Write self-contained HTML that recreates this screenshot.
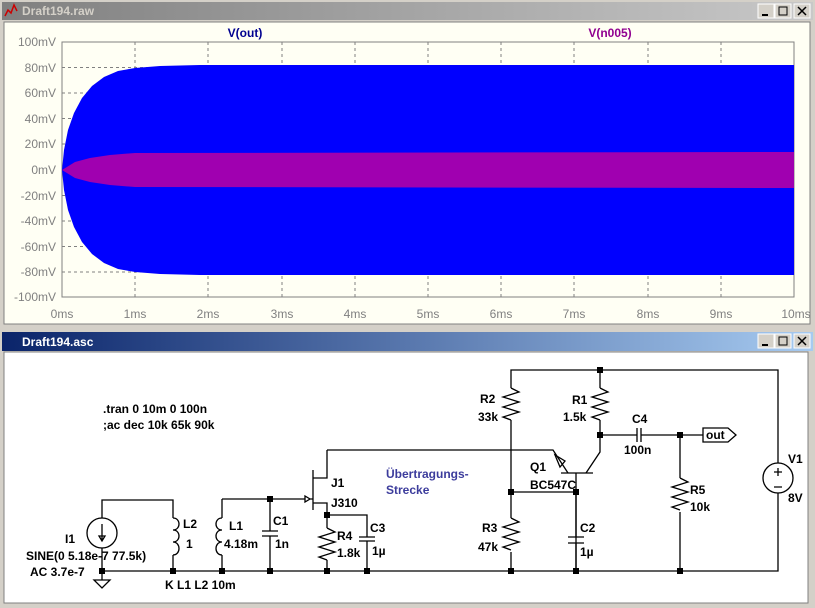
<!DOCTYPE html>
<html><head><meta charset="utf-8"><style>
html,body{margin:0;padding:0;background:#d4d0c8;}
svg{display:block;}
.t{font-family:"Liberation Sans",sans-serif;font-size:12px;font-weight:bold;fill:#000;}
.ax{font-family:"Liberation Sans",sans-serif;font-size:12px;fill:#808080;}
.tl{font-family:"Liberation Sans",sans-serif;font-size:12px;font-weight:bold;}
</style></head><body>
<svg width="815" height="608" viewBox="0 0 815 608" xmlns="http://www.w3.org/2000/svg">
<defs>
<linearGradient id="g1" x1="0" x2="1"><stop offset="0" stop-color="#808080"/><stop offset="1" stop-color="#c8c8c8"/></linearGradient>
<linearGradient id="g2" x1="0" x2="1"><stop offset="0" stop-color="#0a246a"/><stop offset="1" stop-color="#a6caf0"/></linearGradient>
</defs>
<rect width="815" height="608" fill="#d4d0c8"/>
<!-- top window -->
<rect x="2" y="2" width="811" height="18" fill="url(#g1)"/>
<path d="M5 16 l3 -6 3 3 3 -8 3 6" stroke="#c00" stroke-width="1.5" fill="none"/>
<text x="22" y="15" class="tl" fill="#d4d0c8">Draft194.raw</text>
<g fill="#d4d0c8" stroke="#fff"><rect x="758" y="4" width="16" height="14"/><rect x="775" y="4" width="16" height="14"/><rect x="794" y="4" width="16" height="14"/></g>
<g stroke="#000" fill="none"><path d="M762 15 h6" stroke-width="2"/><rect x="779" y="7" width="8" height="8"/><path d="M798 7 l8 8 M806 7 l-8 8" stroke-width="1.5"/></g>
<rect x="4" y="22" width="806" height="302" fill="#fffff4" stroke="#808080"/>
<!-- grid -->
<g stroke="#808080" stroke-dasharray="3,3">
<path d="M135 42V297M208 42V297M282 42V297M355 42V297M428 42V297M501 42V297M574 42V297M648 42V297M721 42V297"/>
<path d="M62 67.5H794M62 93H794M62 118.5H794M62 144H794M62 170H794M62 195.5H794M62 221H794M62 246.5H794M62 272H794"/>
</g>
<rect x="62" y="42" width="732" height="255" fill="none" stroke="#808080"/>
<!-- waveforms -->
<path d="M62 170 L64 150 68 130 74 113 82 98 92 86 104 77 118 71 135 68 160 66 200 65 794 65 L794 275 200 275 160 274 135 272 118 269 104 263 92 254 82 242 74 227 68 210 64 190 Z" fill="#0000ff"/>
<path d="M62 170 L75 162 90 158 110 155 135 153 794 152 794 188 135 187 110 185 90 182 75 178 Z" fill="#a000b0"/>
<g class="ax" text-anchor="end">
<text x="56" y="46">100mV</text><text x="56" y="72">80mV</text><text x="56" y="97">60mV</text><text x="56" y="123">40mV</text><text x="56" y="148">20mV</text><text x="56" y="174">0mV</text><text x="56" y="200">-20mV</text><text x="56" y="225">-40mV</text><text x="56" y="251">-60mV</text><text x="56" y="276">-80mV</text><text x="56" y="301">-100mV</text>
</g>
<g class="ax" text-anchor="middle">
<text x="62" y="318">0ms</text><text x="135" y="318">1ms</text><text x="208" y="318">2ms</text><text x="282" y="318">3ms</text><text x="355" y="318">4ms</text><text x="428" y="318">5ms</text><text x="501" y="318">6ms</text><text x="574" y="318">7ms</text><text x="648" y="318">8ms</text><text x="721" y="318">9ms</text><text x="796" y="318">10ms</text>
</g>
<text x="245" y="37" class="tl" fill="#000090" text-anchor="middle">V(out)</text>
<text x="610" y="37" class="tl" fill="#900090" text-anchor="middle">V(n005)</text>
<!-- bottom window -->
<rect x="2" y="332" width="811" height="19" fill="url(#g2)"/>
<text x="22" y="346" class="tl" fill="#fff">Draft194.asc</text>
<g fill="#d4d0c8" stroke="#fff"><rect x="758" y="334" width="16" height="14"/><rect x="775" y="334" width="16" height="14"/><rect x="794" y="334" width="16" height="14"/></g>
<g stroke="#000" fill="none"><path d="M762 345 h6" stroke-width="2"/><rect x="779" y="337" width="8" height="8"/><path d="M798 337 l8 8 M806 337 l-8 8" stroke-width="1.5"/></g>
<rect x="4" y="352" width="804" height="251" fill="#fff" stroke="#808080"/>
<!-- schematic -->
<g stroke="#000" stroke-width="1.3" fill="none">
<path d="M102 571H778V493"/>
<path d="M778 463V370H511V388M511 420V518M511 552V571"/>
<path d="M511 388l8 4-16 5 16 5-16 5 16 5-16 5 8 3"/>
<path d="M511 518l8 4-16 5 16 5-16 5 16 5-16 5 8 3"/>
<circle cx="778" cy="478" r="15"/>
<path d="M778 468v8M774 472h8M774 487h8"/>
<path d="M600 370V388M600 420V452L586 473M600 388l8 4-16 5 16 5-16 5 16 5-16 5 8 3"/>
<path d="M561 473H593M576 473V571M511 492H576"/>
<path d="M600 435H637M641 435H703M637 428v14M641 428v14"/>
<path d="M703 428H728L736 435 728 442H703Z"/>
<path d="M680 435V478M680 512V571M680 478l8 4-16 5 16 5-16 5 16 5-16 5 8 3"/>
<path d="M327 450H553L568 473M555 455l5 12 5-6z"/>
<path d="M576 492V537M576 543V571M568 537h16M568 543h16"/>
<path d="M313 470V510M313 478H327V450M313 503H327V528M327 560V571M327 528l8 4-16 5 16 5-16 5 16 5-16 5 8 3"/>
<path d="M327 515H367V537M367 541V571M359 537h16M359 541h16"/>
<path d="M222 499H305M305 496v6l5-3z M310 499H313"/>
<path d="M270 499V531M270 536V571M262 531h16M262 536h16"/>
<path d="M222 499V518M222 555V571"/>
<path d="M222 518c-8 0-8 12 0 12M222 530c-8 0-8 12 0 12M222 542c-8 0-8 13 0 13"/>
<path d="M102 518V500H173V518M173 555V571"/>
<path d="M173 518c8 0 8 12 0 12M173 530c8 0 8 12 0 12M173 542c8 0 8 13 0 13"/>
<circle cx="102" cy="533" r="15"/>
<path d="M102 524v16M99 536l3 5 3-5z"/>
<path d="M102 548V571V580M94 580h16l-8 8z"/>
</g>
<g fill="#000">
<rect x="99" y="568" width="6" height="6"/><rect x="170" y="568" width="6" height="6"/><rect x="219" y="568" width="6" height="6"/><rect x="267" y="568" width="6" height="6"/><rect x="267" y="496" width="6" height="6"/><rect x="324" y="568" width="6" height="6"/><rect x="364" y="568" width="6" height="6"/><rect x="324" y="512" width="6" height="6"/><rect x="508" y="568" width="6" height="6"/><rect x="573" y="568" width="6" height="6"/><rect x="677" y="568" width="6" height="6"/><rect x="508" y="489" width="6" height="6"/><rect x="573" y="489" width="6" height="6"/><rect x="597" y="367" width="6" height="6"/><rect x="597" y="432" width="6" height="6"/><rect x="677" y="432" width="6" height="6"/>
</g>
<g class="t">
<text x="103" y="413">.tran 0 10m 0 100n</text>
<text x="103" y="429">;ac dec 10k 65k 90k</text>
<text x="706" y="439">out</text>
<text x="480" y="403">R2</text><text x="478" y="421">33k</text>
<text x="572" y="404">R1</text><text x="563" y="421">1.5k</text>
<text x="632" y="423">C4</text><text x="624" y="454">100n</text>
<text x="788" y="463">V1</text><text x="788" y="502">8V</text>
<text x="690" y="494">R5</text><text x="690" y="511">10k</text>
<text x="530" y="471">Q1</text><text x="530" y="489">BC547C</text>
<text x="482" y="532">R3</text><text x="478" y="551">47k</text>
<text x="580" y="532">C2</text><text x="580" y="556">1µ</text>
<text x="337" y="540">R4</text><text x="337" y="557">1.8k</text>
<text x="370" y="532">C3</text><text x="372" y="555">1µ</text>
<text x="331" y="487">J1</text><text x="331" y="507">J310</text>
<text x="273" y="525">C1</text><text x="275" y="548">1n</text>
<text x="229" y="530">L1</text><text x="224" y="548">4.18m</text>
<text x="183" y="528">L2</text><text x="186" y="548">1</text>
<text x="65" y="543">I1</text>
<text x="26" y="560">SINE(0 5.18e-7 77.5k)</text>
<text x="30" y="576">AC 3.7e-7</text>
<text x="165" y="589">K L1 L2 10m</text>
</g>
<text x="386" y="478" class="tl" fill="#3c3c9c">Übertragungs-</text>
<text x="386" y="494" class="tl" fill="#3c3c9c">Strecke</text>
</svg>
</body></html>
